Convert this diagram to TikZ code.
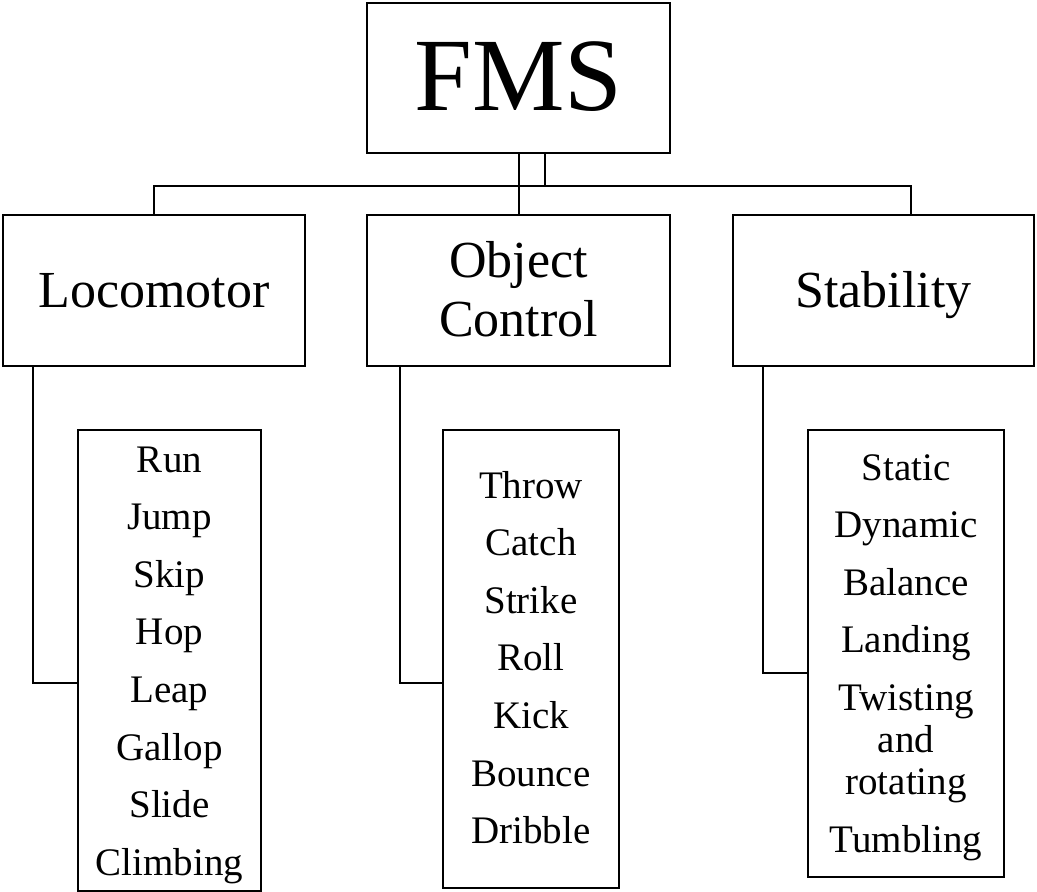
\documentclass[tikz,border=0pt]{standalone}
\usepackage{fontspec}
\setmainfont{Liberation Serif}
% #1 height, #2 width, #3 font size, #4 baselineskip, #5 first baseline from top, #6 text
\newcommand{\boxtext}[6]{\parbox[c][#1][t]{#2}{\fontsize{#3}{#4}\selectfont\centering\rule{0pt}{#5}#6\par}}
\begin{document}
\begin{tikzpicture}[x=1pt,y=-1pt,
  box/.style={draw, line width=2pt, inner sep=0pt, outer sep=0pt, anchor=north west},
  conn/.style={draw, line width=2pt}]
\useasboundingbox (0,0) rectangle (1037,892);

% top
\node[box] (fms) at (367,3) {\boxtext{150pt}{303pt}{104}{110}{107pt}{FMS}};

% level 2
\node[box] (loc) at (3,215) {\boxtext{151pt}{302pt}{52}{59}{92pt}{Locomotor}};
\node[box] (obj) at (367,215) {\boxtext{151pt}{303pt}{52}{59}{62pt}{Object\\Control}};
\node[box] (stab) at (733,215) {\boxtext{151pt}{301pt}{52}{59}{92pt}{Stability}};

% lists
\node[box] (locl) at (78,430) {\boxtext{461pt}{183pt}{39}{57.6}{42pt}{Run\\Jump\\Skip\\Hop\\Leap\\Gallop\\Slide\\Climbing}};
\node[box] (objl) at (443,430) {\boxtext{458pt}{176pt}{39}{57.6}{68pt}{Throw\\Catch\\Strike\\Roll\\Kick\\Bounce\\Dribble}};
\node[box] (stabl) at (808,430) {\boxtext{447pt}{196pt}{39}{57.6}{50pt}{Static\\Dynamic\\Balance\\Landing\\Twisting\\[-15.6pt]and\\[-15.6pt]rotating\\Tumbling}};

% bus coordinates
\coordinate (busL) at (154,186);
\coordinate (busR) at (911,186);
\coordinate (fmsA) at (519,153);
\coordinate (fmsB) at (545,153);

% connectors from FMS
\draw[conn] (fmsA) -- (obj.north -| fmsA);
\draw[conn] (fmsB) -- (fmsB |- busL);
\draw[conn] (loc.north -| busL) -- (busL) -- (busR) -- (stab.north -| busR);

% connectors to lists
\coordinate (locd) at (33,366);
\coordinate (objd) at (400,366);
\coordinate (stabd) at (763,366);
\draw[conn] (locd) |- ([yshift=-22.5pt]locl.west);
\draw[conn] (objd) |- ([yshift=-24pt]objl.west);
\draw[conn] (stabd) |- ([yshift=-19.5pt]stabl.west);
\end{tikzpicture}
\end{document}
